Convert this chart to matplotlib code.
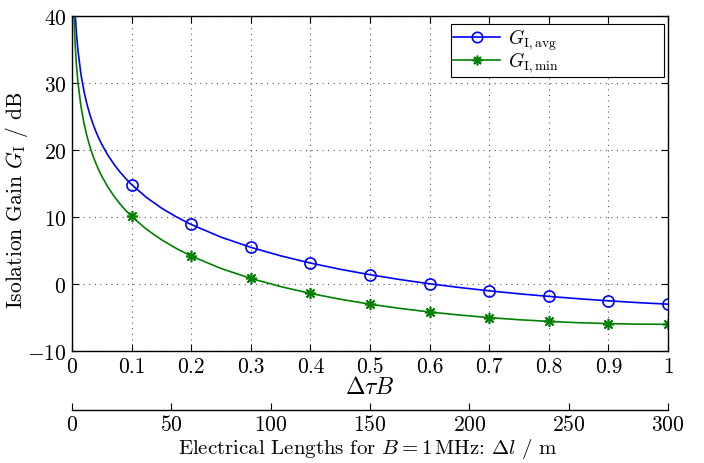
import numpy as np
import matplotlib
matplotlib.use("Agg")
import matplotlib.pyplot as plt

plt.rcParams.update({
    "font.family": "serif", "font.serif": ["cmr10"], "mathtext.fontset": "cm",
    "axes.formatter.use_mathtext": True, "font.size": 15.5,
    "xtick.direction": "in", "ytick.direction": "in",
    "xtick.top": True, "ytick.right": True,
    "axes.linewidth": 1.0,
})

# curve samples (dtauB, dB)
x_curve = [0.003, 0.005, 0.0075, 0.01, 0.015, 0.02, 0.025, 0.03, 0.035, 0.04, 0.045,
           0.05, 0.06, 0.07, 0.08, 0.09, 0.1,
           0.125, 0.15, 0.175, 0.2, 0.25, 0.3, 0.35, 0.4, 0.45, 0.5, 0.55, 0.6,
           0.65, 0.7, 0.75, 0.8, 0.85, 0.9, 0.95, 1.0]
g_avg = [45.3, 40.85, 37.33, 34.83, 31.31, 28.81, 26.87, 25.29, 23.95, 22.79, 21.77,
         20.85, 19.27, 17.94, 16.78, 15.76, 14.85,
         12.92, 11.35, 10.03, 8.89, 7.00, 5.48, 4.21, 3.13, 2.20, 1.39, 0.67, 0.04,
         -0.52, -1.02, -1.46, -1.85, -2.20, -2.51, -2.78, -3.01]
g_min = [40.51, 36.08, 32.56, 30.06, 26.54, 24.04, 22.10, 20.52, 19.18, 18.02, 17.00,
         16.09, 14.51, 13.17, 12.02, 10.99, 10.09,
         8.17, 6.62, 5.31, 4.18, 2.32, 0.84, -0.38, -1.41, -2.27, -3.01, -3.64, -4.18,
         -4.63, -5.02, -5.33, -5.58, -5.78, -5.91, -5.99, -6.02]

x_mark = [0.1, 0.2, 0.3, 0.4, 0.5, 0.6, 0.7, 0.8, 0.9, 1.0]
avg_mark = [14.85, 8.89, 5.48, 3.13, 1.39, 0.04, -1.02, -1.85, -2.51, -3.01]
min_mark = [10.09, 4.18, 0.84, -1.41, -3.01, -4.18, -5.02, -5.58, -5.91, -6.02]

len_ticks = [0, 50, 100, 150, 200, 250, 300]

BLUE, GREEN = "#0000ff", "#008000"
STAR = (8, 2, 0)

fig = plt.figure(figsize=(7.04, 4.64), dpi=100)
ax = fig.add_axes([0.1023, 0.2414, 0.8467, 0.7216])

ax.plot(x_curve, g_avg, color=BLUE, lw=1.2)
ax.plot(x_curve, g_min, color=GREEN, lw=1.2)
ax.plot(x_mark, avg_mark, "o", color=BLUE, ms=8, mfc="none", mew=1.2)
ax.plot(x_mark, min_mark, marker=STAR, ls="none", color=GREEN, ms=8, mew=1.2)
# legend proxies
ax.plot([], [], "-o", color=BLUE, lw=1.2, ms=7.5, mfc="none", mew=1.2, label=r"$G_{\mathrm{I,avg}}$")
ax.plot([], [], "-", marker=STAR, color=GREEN, lw=1.2, ms=7, mew=1.2, label=r"$G_{\mathrm{I,min}}$")

ax.set_xlim(0, 1); ax.set_ylim(-10, 40)
ax.set_xticks(np.round(np.arange(0, 1.01, 0.1), 1))
ax.set_xticklabels(["0", "0.1", "0.2", "0.3", "0.4", "0.5", "0.6", "0.7", "0.8", "0.9", "1"])
ax.set_yticks([-10, 0, 10, 20, 30, 40])
ax.tick_params(length=5, pad=4)
ax.grid(True, ls=(0, (1, 4)), color="0.35", lw=0.8)
ax.set_xlabel(r"$\Delta\tau B$", fontsize=17, labelpad=0)
ax.set_ylabel(r"Isolation Gain $G_{\mathrm{I}}$ / dB", fontsize=15.5)
ax.yaxis.set_label_coords(-0.07, 0.454)
leg = ax.legend(loc="upper left", bbox_to_anchor=(0.636, 0.976, 0.357, 0.0), mode="expand",
                fontsize=14, handlelength=2.4, fancybox=False,
                edgecolor="k", framealpha=1, borderaxespad=0.0, labelspacing=-0.12,
                borderpad=0.12, handletextpad=0.4)
leg.get_frame().set_linewidth(0.8)

# secondary length axis
ax2 = fig.add_axes([0.1023, 0.1143, 0.8467, 0.001])
for s in ["top", "left", "right"]:
    ax2.spines[s].set_visible(False)
ax2.set_xlim(0, 300)
ax2.set_yticks([])
ax2.set_xticks(len_ticks)
ax2.tick_params(axis="x", direction="in", top=False, length=5, pad=3)
ax2.patch.set_visible(False)
fig.text(0.523, 1 - 449 / 464, r"Electrical Lengths for $B = 1\,\mathrm{MHz}$: $\Delta l$ / m",
         fontsize=15, ha="center", va="center")

fig.savefig("out.png", dpi=100)
